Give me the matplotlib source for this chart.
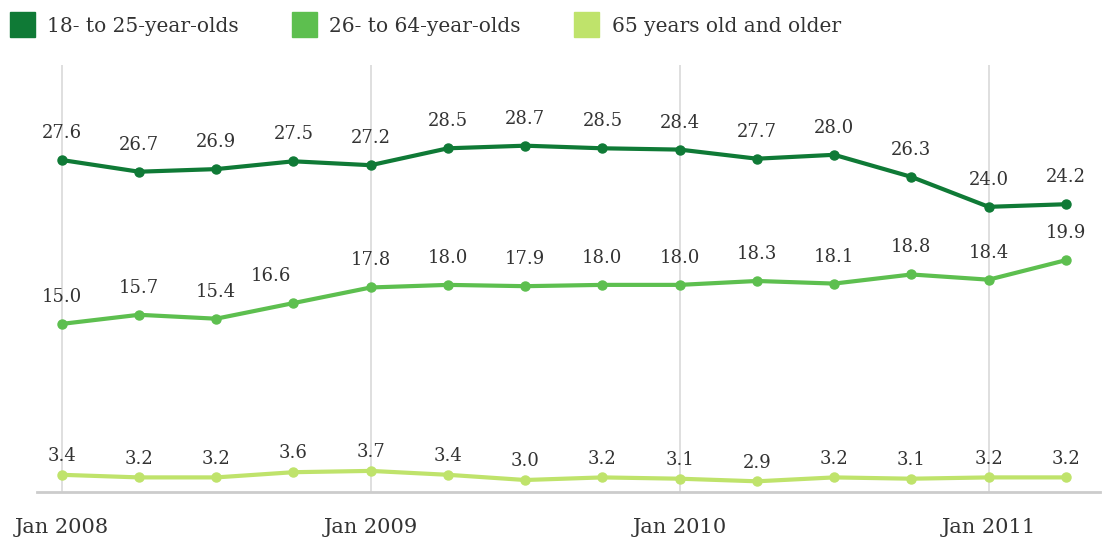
import matplotlib.pyplot as plt
from matplotlib.lines import Line2D

# quarterly readings, Jan 2008 .. Apr 2011
quarters = list(range(14))
tick_pos = [0, 4, 8, 12]
tick_labels = ['Jan 2008', 'Jan 2009', 'Jan 2010', 'Jan 2011']

young = [27.6, 26.7, 26.9, 27.5, 27.2, 28.5, 28.7, 28.5, 28.4, 27.7, 28.0, 26.3, 24.0, 24.2]
middle = [15.0, 15.7, 15.4, 16.6, 17.8, 18.0, 17.9, 18.0, 18.0, 18.3, 18.1, 18.8, 18.4, 19.9]
older = [3.4, 3.2, 3.2, 3.6, 3.7, 3.4, 3.0, 3.2, 3.1, 2.9, 3.2, 3.1, 3.2, 3.2]

names = ['18- to 25-year-olds', '26- to 64-year-olds', '65 years old and older']
colors = ['#0f7a36', '#5dbf4f', '#bfe36b']

plt.rcParams['font.family'] = ['DejaVu Serif']

fig = plt.figure(figsize=(11.11, 5.42), dpi=100)
ax = fig.add_axes([0.0333, 0.0923, 0.9567, 0.7877])

for vals, col in zip([young, middle, older], colors):
    ax.plot(quarters, vals, color=col, lw=3, marker='o', ms=6.5, zorder=3,
            solid_capstyle='round')
    for x, v in zip(quarters, vals):
        dx = -16 if (vals is middle and x == 3) else 0
        dy = 7 if vals is older else 13
        ax.annotate(f'{v:.1f}', (x, v), xytext=(dx, dy), textcoords='offset points',
                    ha='center', va='bottom', fontsize=13, color='#333333')

ax.set_xlim(-0.32, 13.44)
ax.set_ylim(2.08, 34.9)
ax.set_xticks(tick_pos)
ax.set_xticklabels(tick_labels, fontsize=15, color='#333333')
ax.tick_params(axis='x', length=0, pad=19)
ax.set_yticks([])
for t in tick_pos:
    ax.axvline(t, color='#d9d9d9', lw=1.2, zorder=1)
for s in ['top', 'right', 'left']:
    ax.spines[s].set_visible(False)
ax.spines['bottom'].set_color('#cccccc')
ax.spines['bottom'].set_linewidth(2)

handles = [Line2D([], [], ls='none', marker='s', ms=18, color=c) for c in colors]
fig.legend(handles, names, loc='center left', bbox_to_anchor=(0.008, 0.952), ncol=3,
           frameon=False, fontsize=14.5, handlelength=1.3, handletextpad=0.6,
           columnspacing=2.6, borderpad=0, borderaxespad=0, labelcolor='#333333')

fig.savefig('out.png', dpi=100)
